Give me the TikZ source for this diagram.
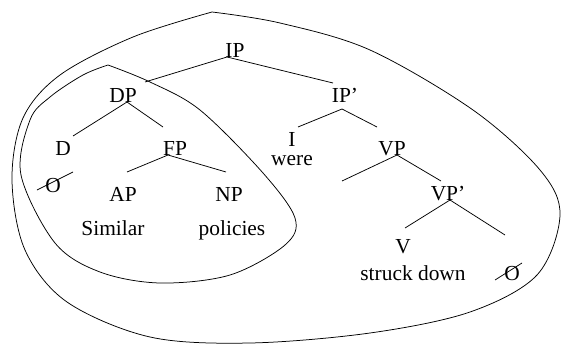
\documentclass[tikz,border=0pt]{standalone}
\usepackage{fontspec}
\setmainfont{Liberation Serif}
\begin{document}
\begin{tikzpicture}[x=1pt,y=-1pt,
  lbl/.style={anchor=base, inner sep=0pt, font=\fontsize{21.4}{24}\selectfont},
  stack/.style={anchor=base, inner sep=0pt, align=center, font=\fontsize{21.4}{19}\selectfont},
  branch/.style={line width=0.75pt},
  ring/.style={line width=0.75pt, line join=miter},
  slash/.style={line width=0.75pt}]
\useasboundingbox (0,0) rectangle (561,345);

% category labels and words (anchored on their baselines)
\node[lbl] (IP)   at (235,57)  {IP};
\node[lbl] (DP)   at (123,102) {DP};
\node[lbl] (IPb)  at (345,102) {IP'};
\node[lbl] (D)    at (63,155)  {D};
\node[lbl] (FP)   at (175,155) {FP};
\node[stack] (I)  at (292,165) {I\\were};
\node[lbl] (VP)   at (392,155) {VP};
\node[lbl] (nullD) at (53,192) {O};
\node[lbl] (AP)   at (123,201) {AP};
\node[lbl] (NP)   at (229,201) {NP};
\node[lbl] (VPb)  at (448,200) {VP'};
\node[lbl] (sim)  at (113,235) {Similar};
\node[lbl] (pol)  at (232,235) {policies};
\node[lbl] (V)    at (403,253) {V};
\node[lbl] (sd)   at (413,280) {struck down};
\node[lbl] (nullV) at (512,280) {O};

% branching points and branch ends
\coordinate (IP-b)  at (227,57);
\coordinate (DP-t)  at (145,82);
\coordinate (IPb-t) at (333,83);
\coordinate (DP-b)  at (127,102);
\coordinate (D-t)   at (73,136);
\coordinate (FP-t)  at (163,127);
\coordinate (FP-b)  at (168,155);
\coordinate (AP-t)  at (127,172);
\coordinate (NP-t)  at (226,172);
\coordinate (IPb-b) at (342,109);
\coordinate (I-t)   at (298,127);
\coordinate (VP-t)  at (377,127);
\coordinate (VP-b)  at (397,155);
\coordinate (spec-t) at (342,181);
\coordinate (VPb-t) at (441,181);
\coordinate (VPb-b) at (450,200);
\coordinate (V-t)   at (405,228);
\coordinate (obj-t) at (505,235);

\draw[branch] (DP-t) -- (IP-b) -- (IPb-t);
\draw[branch] (D-t) -- (DP-b) -- (FP-t);
\draw[branch] (AP-t) -- (FP-b) -- (NP-t);
\draw[branch] (I-t) -- (IPb-b) -- (VP-t);
\draw[branch] (spec-t) -- (VP-b) -- (VPb-t);
\draw[branch] (V-t) -- (VPb-b) -- (obj-t);

% strokes through the empty heads
\coordinate (nD-a) at (37,190);
\coordinate (nD-b) at (73,172);
\coordinate (nV-a) at (495,280);
\coordinate (nV-b) at (522,263);
\draw[slash] (nD-a) -- (nD-b);
\draw[slash] (nV-a) -- (nV-b);

% outer enclosure
\draw[ring] plot[smooth, tension=0.55] coordinates {
  (212,12) (280,23) (370,50) (473,110) (540,170) (560,215) (537,275)
  (470,312) (370,333) (250,343) (150,337) (67,302) (25,250) (12,180)
  (23,118) (60,75) (133,37) (212,12)};

% inner enclosure around the subject
\draw[ring] plot[smooth, tension=0.55] coordinates {
  (108,65) (150,82) (200,110) (263,173) (295,218) (285,245) (230,275)
  (160,283) (100,272) (55,243) (21,175) (30,120) (50,97) (83,75) (108,65)};
\end{tikzpicture}
\end{document}
